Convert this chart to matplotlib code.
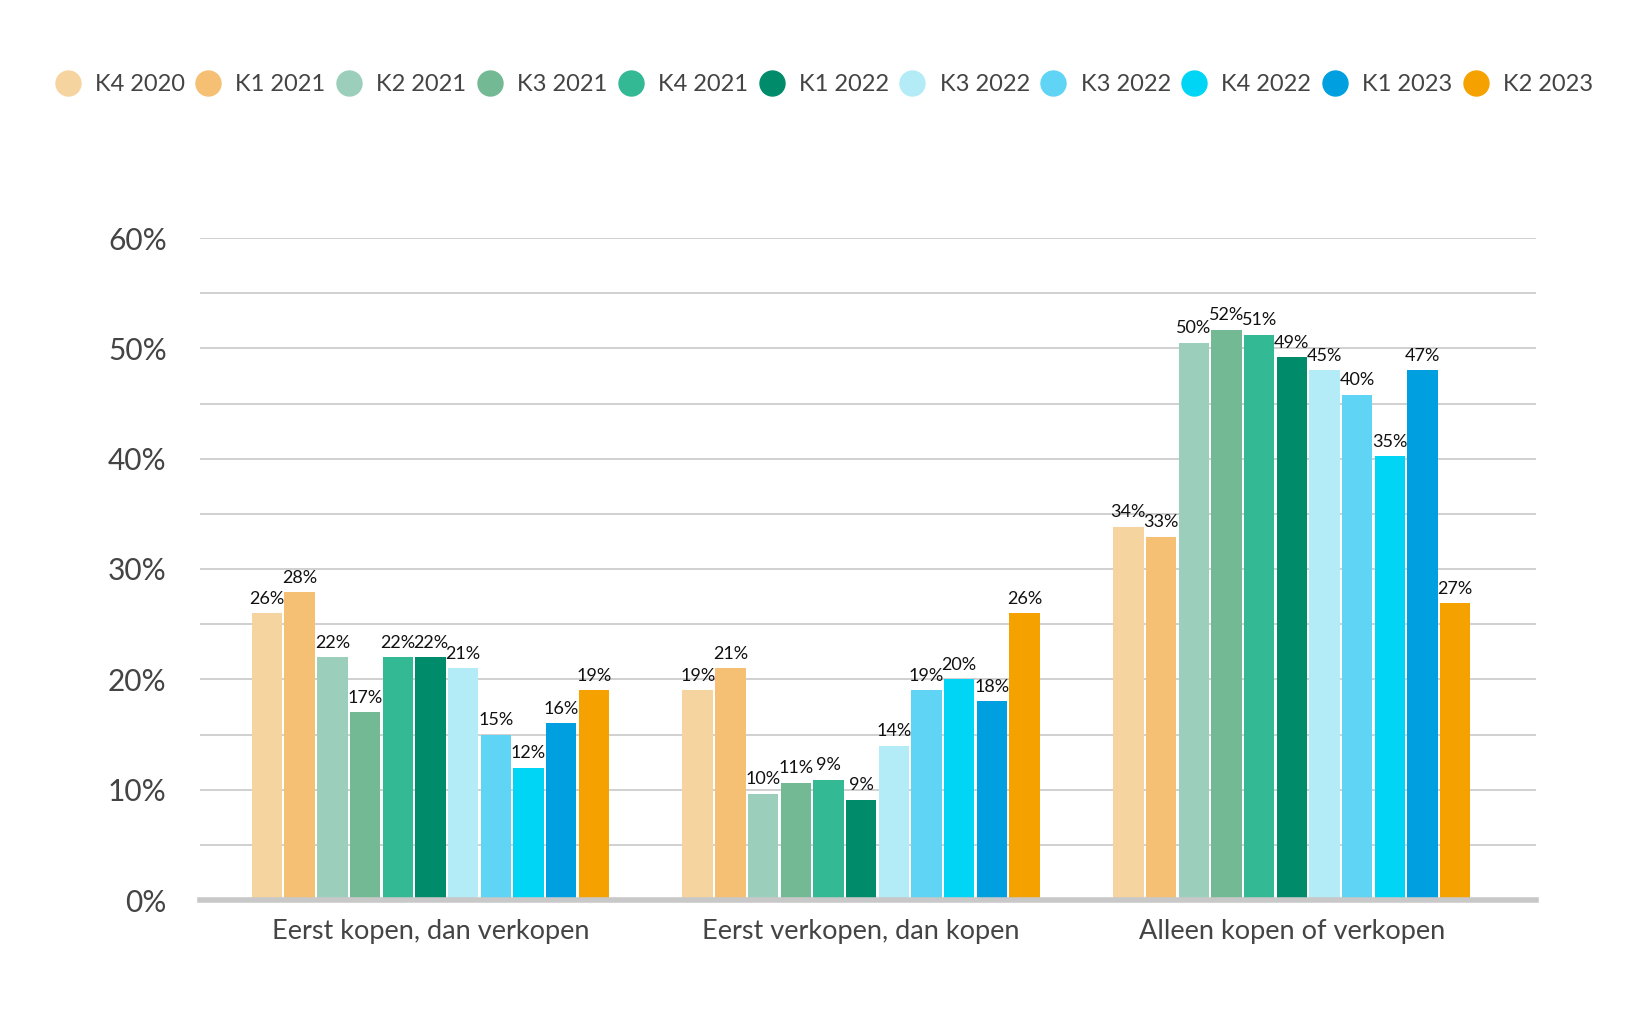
import numpy as np
import matplotlib.pyplot as plt
from matplotlib.lines import Line2D

plt.rcParams['font.family'] = ['Lato', 'DejaVu Sans']

categories = ["Eerst kopen, dan verkopen", "Eerst verkopen, dan kopen", "Alleen kopen of verkopen"]
series = ["K4 2020", "K1 2021", "K2 2021", "K3 2021", "K4 2021", "K1 2022",
          "K3 2022", "K3 2022", "K4 2022", "K1 2023", "K2 2023"]
colors = ["#f6d4a0", "#f5bf74", "#9bcfbb", "#73b993", "#33b994", "#008c6b",
          "#b3ebf6", "#5fd4f5", "#00d5f5", "#00a0e0", "#f5a100"]

# bar heights as drawn in the picture (per category, per series)
heights = {
    "Eerst kopen, dan verkopen": [26, 27.9, 22, 17, 22, 22, 21, 15, 12, 16, 19],
    "Eerst verkopen, dan kopen": [19, 21, 9.6, 10.6, 10.9, 9.1, 14, 19, 20, 18, 26],
    "Alleen kopen of verkopen": [33.8, 32.9, 50.5, 51.7, 51.2, 49.2, 48, 45.8, 40.2, 48, 26.9],
}
# value labels as printed above the bars
labels = {
    "Eerst kopen, dan verkopen": [26, 28, 22, 17, 22, 22, 21, 15, 12, 16, 19],
    "Eerst verkopen, dan kopen": [19, 21, 10, 11, 9, 9, 14, 19, 20, 18, 26],
    "Alleen kopen of verkopen": [34, 33, 50, 52, 51, 49, 45, 40, 35, 47, 27],
}

fig = plt.figure(figsize=(16.4, 10.3), dpi=100)
W, H = 1640, 1030
ax = fig.add_axes([200 / W, 1 - 900 / H, (1536 - 200) / W, (900 - 238) / H])

n = len(series)
slot = 0.0759
width = 0.0705
x = np.arange(len(categories))

for i, s in enumerate(series):
    offs = (i - (n - 1) / 2) * slot
    vals = [heights[c][i] for c in categories]
    bars = ax.bar(x + offs, vals, width=width, color=colors[i], zorder=3)
    for b, c in zip(bars, categories):
        ax.text(b.get_x() + b.get_width() / 2, b.get_height() + 0.6,
                f"{labels[c][i]}%", ha="center", va="bottom",
                fontsize=13, color="#111111", zorder=4)

ax.set_xlim(-0.535, 2.567)
ax.set_ylim(0, 60)
ax.set_yticks(np.arange(0, 61, 10))
ax.set_yticklabels([f"{v}%" for v in range(0, 61, 10)])
ax.set_yticks(np.arange(5, 60, 10), minor=True)
ax.grid(axis="y", which="both", color="#d0d0d0", linewidth=1.4, zorder=0)
ax.tick_params(axis="y", which="both", length=0, labelsize=21.5, labelcolor="#444444", pad=24)
ax.set_xticks(x)
ax.set_xticklabels(categories)
ax.tick_params(axis="x", length=0, labelsize=19.5, labelcolor="#444444", pad=14)
for sp in ["top", "right", "left"]:
    ax.spines[sp].set_visible(False)
ax.spines["bottom"].set_color("#c8c8c8")
ax.spines["bottom"].set_linewidth(4)
ax.spines["bottom"].set_zorder(5)

handles = [Line2D([], [], marker="o", linestyle="", markersize=18,
                  markerfacecolor=c, markeredgecolor=c) for c in colors]
fig.legend(handles, series, loc="center", bbox_to_anchor=(0.502, 0.918), ncol=n,
           frameon=False, fontsize=17, handletextpad=0.55, columnspacing=0.4,
           handlelength=1.2, labelcolor="#444444")

fig.savefig("out.png", dpi=100, facecolor="white")
